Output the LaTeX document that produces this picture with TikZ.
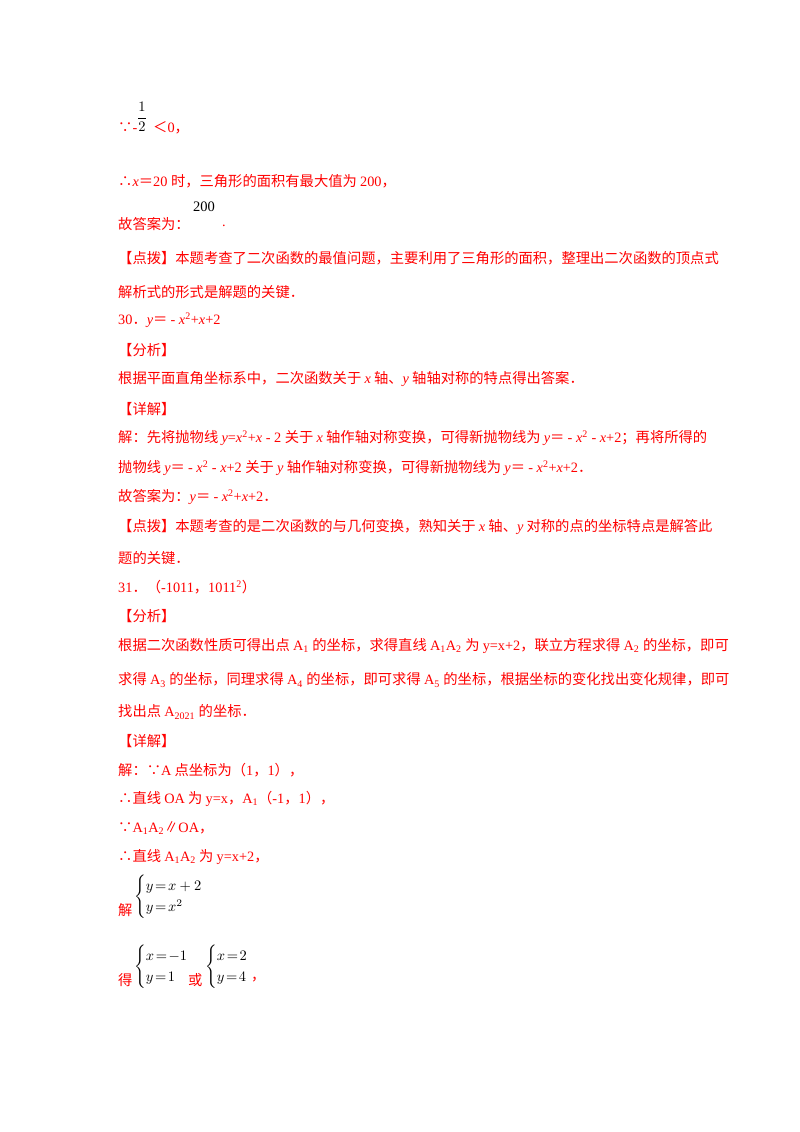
\documentclass[tikz,border=0pt]{standalone}
\usepackage{fontspec}
\usepackage{amsmath}
\usepackage{graphicx}
\setmainfont{Liberation Serif}
\newfontfamily\cjk{Noto Sans CJK SC}
\newfontfamily\sansl{Liberation Sans}
\XeTeXinterchartokenstate=1
\newXeTeXintercharclass\CJKcls
\count255="4E00 \loop \XeTeXcharclass\count255=\CJKcls \ifnum\count255<"9FFF \advance\count255 by1 \repeat
\count255="FF00 \loop \XeTeXcharclass\count255=\CJKcls \ifnum\count255<"FFEF \advance\count255 by1 \repeat
\count255="3000 \loop \XeTeXcharclass\count255=\CJKcls \ifnum\count255<"303F \advance\count255 by1 \repeat
\XeTeXcharclass"2234=\CJKcls \XeTeXcharclass"2235=\CJKcls \XeTeXcharclass"2225=\CJKcls
\XeTeXinterchartoks 0 \CJKcls={\cjk}
\XeTeXinterchartoks 4095 \CJKcls={\cjk}
\XeTeXinterchartoks \CJKcls 0={\rmfamily}
\XeTeXinterchartoks 4095 0={\rmfamily}
\definecolor{rd}{HTML}{FF0000}
\tikzset{ln/.style={anchor=west,inner sep=0pt,text=rd,font=\fontsize{14.3}{17}\selectfont},
 mth/.style={anchor=west,inner sep=0pt,text=black}}
\newcommand{\mm}[1]{\scalebox{1.45}{#1}}
\newcommand{\vi}[1]{\textit{#1}}
\begin{document}
\begin{tikzpicture}[x=1pt,y=-1pt]
\useasboundingbox[fill=white] (0,0) rectangle (800,1132);
\node[ln] (l1) at (118,128) {∵-};
\node[mth,anchor=center] (f1) at (142,117) {\mm{$\displaystyle\frac{1}{2}$}};
\node[ln] (l1b) at (153,128) {＜0，};
\node[ln] (l2) at (118,181) {∴\vi{x}＝20 时，三角形的面积有最大值为 200，};
\node[ln] (l3) at (118,224) {故答案为：};
\node[mth] (l3b) at (193,207) {\mm{200}};
\node[ln] (l3c) at (222,226) {.};
\node[ln] (l4) at (118,258) {【点拨】本题考查了二次函数的最值问题，主要利用了三角形的面积，整理出二次函数的顶点式};
\node[ln] (l5) at (118,292) {解析式的形式是解题的关键．};
\node[ln] (l6) at (118,320) {30．\vi{y}＝ - \vi{x}\textsuperscript{2}+\vi{x}+2};
\node[ln] (l7) at (118,350) {【分析】};
\node[ln] (l8) at (118,379) {根据平面直角坐标系中，二次函数关于 \vi{x} 轴、\vi{y} 轴轴对称的特点得出答案．};
\node[ln] (l9) at (118,409) {【详解】};
\node[ln] (l10) at (118,438) {解：先将抛物线 \vi{y}=\vi{x}\textsuperscript{2}+\vi{x} - 2 关于 \vi{x} 轴作轴对称变换，可得新抛物线为 \vi{y}＝ - \vi{x}\textsuperscript{2} - \vi{x}+2；再将所得的};
\node[ln] (l11) at (118,468) {抛物线 \vi{y}＝ - \vi{x}\textsuperscript{2} - \vi{x}+2 关于 \vi{y} 轴作轴对称变换，可得新抛物线为 \vi{y}＝ - \vi{x}\textsuperscript{2}+\vi{x}+2．};
\node[ln] (l12) at (118,497) {故答案为：\vi{y}＝ - \vi{x}\textsuperscript{2}+\vi{x}+2．};
\node[ln] (l13) at (118,527) {【点拨】本题考查的是二次函数的与几何变换，熟知关于 \vi{x} 轴、\vi{y} 对称的点的坐标特点是解答此};
\node[ln] (l14) at (118,558) {题的关键．};
\node[ln] (l15) at (118,587) {31．（-1011，1011\textsuperscript{2}）};
\node[ln] (l16) at (118,616) {【分析】};
\node[ln] (l17) at (118,646) {根据二次函数性质可得出点 A\textsubscript{1} 的坐标，求得直线 A\textsubscript{1}A\textsubscript{2} 为 y=x+2，联立方程求得 A\textsubscript{2} 的坐标，即可};
\node[ln] (l18) at (118,680) {求得 A\textsubscript{3} 的坐标，同理求得 A\textsubscript{4} 的坐标，即可求得 A\textsubscript{5} 的坐标，根据坐标的变化找出变化规律，即可};
\node[ln] (l19) at (118,712) {找出点 A\textsubscript{2021} 的坐标．};
\node[ln] (l20) at (118,741) {【详解】};
\node[ln] (l21) at (118,770) {解：∵{\sansl A} 点坐标为（1，1），};
\node[ln] (l22) at (118,799) {∴直线 {\sansl OA} 为 {\sansl y=x}，A\textsubscript{1}（-1，1），};
\node[ln] (l23) at (118,828) {∵{\sansl A\textsubscript{1}A\textsubscript{2}}∥{\sansl OA}，};
\node[ln] (l24) at (118,857) {∴直线 {\sansl A\textsubscript{1}A\textsubscript{2}} 为 {\sansl y=x+2}，};
\node[ln] (l25) at (118,910) {解};
\node[mth] (s1) at (134,897) {\mm{$\begin{cases} y\!=\!x+2\\ y\!=\!x^2\end{cases}$}};
\node[ln] (l26) at (118,980) {得};
\node[mth] (s2) at (134,967) {\mm{$\begin{cases} x\!=\!-1\\ y\!=\!1\end{cases}$}};
\node[ln] (l27) at (188,980) {或};
\node[mth] (s3) at (205,967) {\mm{$\begin{cases} x\!=\!2\\ y\!=\!4\end{cases}$}};
\node[ln] (l28) at (251,980) {，};
\end{tikzpicture}
\end{document}
